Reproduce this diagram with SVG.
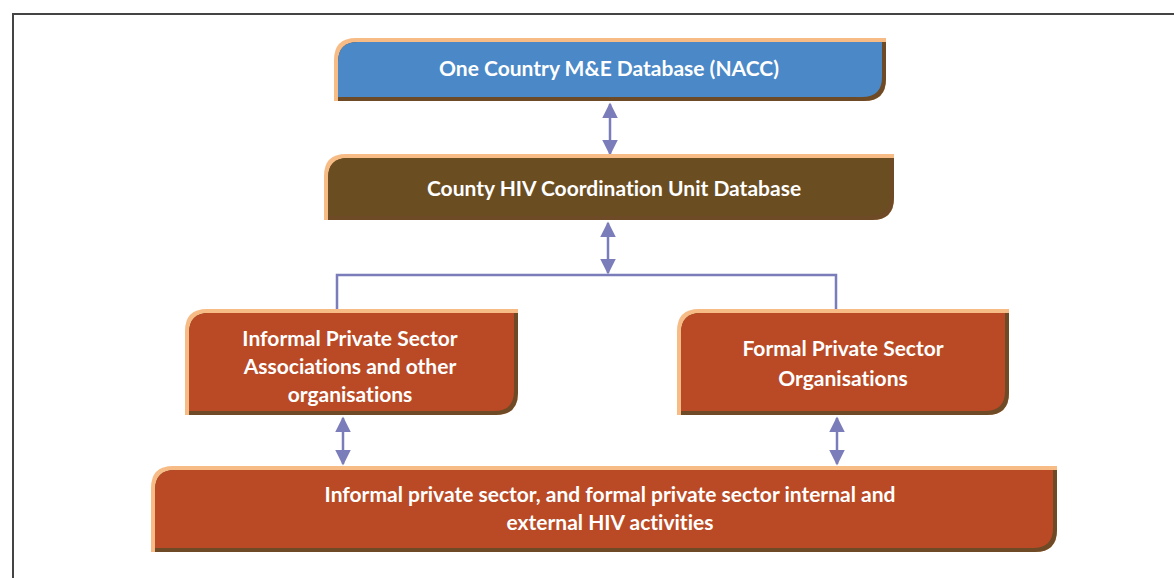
<svg xmlns="http://www.w3.org/2000/svg" width="1174" height="578" viewBox="0 0 1174 578">
<style>
.hl{fill:#f7bb86}
.sh{fill:#6e4a26}
.blue{fill:#4a88c7}
.brown{fill:#6b4d22}
.red{fill:#b94a25}
.t{font-family:Lato,"Open Sans",sans-serif;font-weight:bold;font-size:21px;fill:#ffffff;text-anchor:middle;font-variant-ligatures:none;font-feature-settings:"liga" 0}
.ln{stroke:#7a7db9;stroke-width:2.5;fill:none}
</style>
<defs>
<marker id="ah" viewBox="0 0 10 10" refX="9" refY="5" markerWidth="6.2" markerHeight="6.2" orient="auto-start-reverse" markerUnits="strokeWidth">
<path d="M0,0 L10,5 L0,10 Z" fill="#7a7db9"/>
</marker>
</defs>
<rect x="0" y="0" width="1174" height="578" fill="#ffffff"/>
<path d="M13,578 V14 H1174" stroke="#444" stroke-width="2" fill="none"/>

<g id="connectors">
<line class="ln" x1="610" y1="104" x2="610" y2="154" marker-start="url(#ah)" marker-end="url(#ah)"/>
<line class="ln" x1="608" y1="223" x2="608" y2="273" marker-start="url(#ah)" marker-end="url(#ah)"/>
<path class="ln" d="M337,309 V275 H836 V309"/>
<line class="ln" x1="343" y1="418" x2="343" y2="464" marker-start="url(#ah)" marker-end="url(#ah)"/>
<line class="ln" x1="837" y1="418" x2="837" y2="464" marker-start="url(#ah)" marker-end="url(#ah)"/>
</g>

<g id="n1">
<path class="hl" d="M334,101 V60 Q334,38 356,38 H886 V79 Q886,101 864,101 Z"/>
<path class="sh" d="M338,101 V62 Q338,42 358,42 H886 V79 Q886,101 864,101 Z"/>
<path class="blue" d="M338,97 V62 Q338,42 358,42 H882 V77 Q882,97 862,97 Z"/>
<text class="t" x="609" y="76">One Country M&amp;E Database (NACC)</text>
</g>

<g id="n2">
<path class="hl" d="M324,220 V176 Q324,154 346,154 H894 V198 Q894,220 872,220 Z"/>
<path class="sh" d="M328,220 V178 Q328,158 348,158 H894 V198 Q894,220 872,220 Z"/>
<path class="brown" d="M328,216 V178 Q328,158 348,158 H890 V196 Q890,216 870,216 Z"/>
<text class="t" x="614" y="196">County HIV Coordination Unit Database</text>
</g>

<g id="n3">
<path class="hl" d="M185,415 V331 Q185,309 207,309 H518 V393 Q518,415 496,415 Z"/>
<path class="sh" d="M189,415 V333 Q189,313 209,313 H518 V393 Q518,415 496,415 Z"/>
<path class="red" d="M189,411 V333 Q189,313 209,313 H514 V391 Q514,411 494,411 Z"/>
<text class="t" x="350" y="346">Informal Private Sector</text>
<text class="t" x="350" y="374">Associations and other</text>
<text class="t" x="350" y="402">organisations</text>
</g>

<g id="n4">
<path class="hl" d="M677,415 V331 Q677,309 699,309 H1009 V393 Q1009,415 987,415 Z"/>
<path class="sh" d="M681,415 V333 Q681,313 701,313 H1009 V393 Q1009,415 987,415 Z"/>
<path class="red" d="M681,411 V333 Q681,313 701,313 H1005 V391 Q1005,411 985,411 Z"/>
<text class="t" x="843" y="356">Formal Private Sector</text>
<text class="t" x="843" y="386">Organisations</text>
</g>

<g id="n5">
<path class="hl" d="M151,552 V488 Q151,466 173,466 H1057 V530 Q1057,552 1035,552 Z"/>
<path class="sh" d="M155,552 V490 Q155,470 175,470 H1057 V530 Q1057,552 1035,552 Z"/>
<path class="red" d="M155,548 V490 Q155,470 175,470 H1053 V528 Q1053,548 1033,548 Z"/>
<text class="t" x="610" y="502">Informal private sector, and formal private sector internal and</text>
<text class="t" x="610" y="530">external HIV activities</text>
</g>
</svg>
